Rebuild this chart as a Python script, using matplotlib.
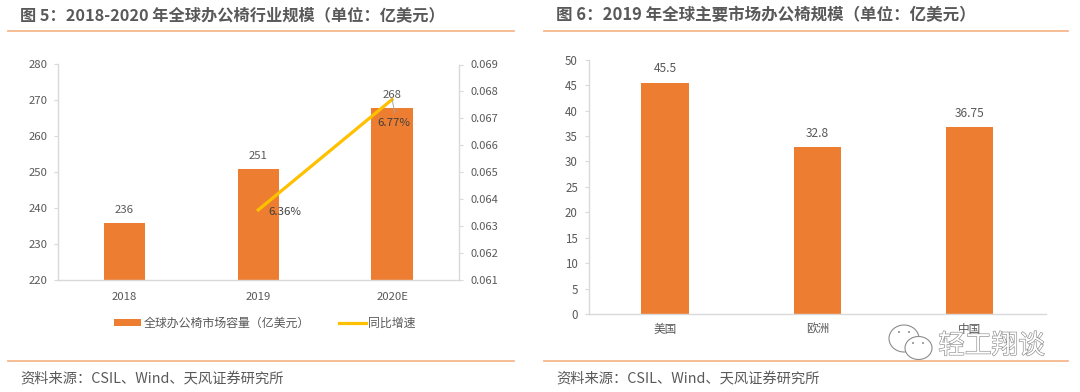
import matplotlib
matplotlib.use("Agg")
import matplotlib.pyplot as plt
from matplotlib.patches import Ellipse
import matplotlib.patheffects as pe

plt.rcParams['font.family'] = ['Noto Sans CJK SC', 'DejaVu Sans']

# Data
years = ['2018', '2019', '2020E']
market_size = [236, 251, 268]
growth_years = [1, 2]
growth = [0.0636, 0.0677]
growth_labels = ['6.36%', '6.77%']
left_ticks = [220, 230, 240, 250, 260, 270, 280]
right_ticks = [0.061, 0.062, 0.063, 0.064, 0.065, 0.066, 0.067, 0.068, 0.069]

regions = ['美国', '欧洲', '中国']
region_size = [45.5, 32.8, 36.75]
region_labels = ['45.5', '32.8', '36.75']
region_ticks = [0, 5, 10, 15, 20, 25, 30, 35, 40, 45, 50]

title_left = '图 5：2018-2020 年全球办公椅行业规模（单位：亿美元）'
title_right = '图 6：2019 年全球主要市场办公椅规模（单位：亿美元）'
source = '资料来源：CSIL、Wind、天风证券研究所'

W, H = 1080, 392
ORANGE = '#ED7D31'
YELLOW = '#FFC000'
GREY = '#D9D9D9'
TEXT = '#595959'
MARK = '#8C8C8C'


def px_axes(fig, x0, x1, y0, y1):
    # pixel box, y measured from the top
    return fig.add_axes([x0/W, 1 - y1/H, (x1-x0)/W, (y1-y0)/H])


def style(ax):
    for s in ['top', 'right']:
        ax.spines[s].set_visible(False)
    for s in ['left', 'bottom']:
        ax.spines[s].set_color(GREY)
        ax.spines[s].set_linewidth(1.0)
    ax.tick_params(axis='y', color=GREY, labelcolor=TEXT, labelsize=8.2, length=3, pad=4.4)
    ax.tick_params(axis='x', length=0, labelcolor=TEXT, labelsize=8.2, pad=9)


fig = plt.figure(figsize=(W/100, H/100), dpi=100)

# Left chart
ax = px_axes(fig, 57.5, 459, 64.5, 280)
bars = ax.bar(range(3), market_size, width=0.31, color=ORANGE, label='全球办公椅市场容量（亿美元）')
ax.set_xlim(-0.5, 2.5)
ax.set_ylim(220, 280)
ax.set_yticks(left_ticks)
ax.set_xticks(range(3))
ax.set_xticklabels(years)
style(ax)
for i, v in enumerate(market_size):
    ax.annotate(str(v), (i, v), xytext=(0, 9.3), textcoords='offset points',
                ha='center', va='center', fontsize=8.2, color=TEXT)

ax2 = ax.twinx()
line, = ax2.plot(growth_years, growth, color=YELLOW, lw=2.3, label='同比增速')
ax2.set_ylim(0.061, 0.069)
ax2.set_yticks(right_ticks)
ax2.set_yticklabels(['%.3f' % t for t in right_ticks])
for s in ['top', 'left', 'bottom']:
    ax2.spines[s].set_visible(False)
ax2.spines['right'].set_color(GREY)
ax2.spines['right'].set_linewidth(1.0)
ax2.tick_params(axis='y', color=GREY, labelcolor=TEXT, labelsize=8, length=3, pad=5)
ax2.annotate(growth_labels[0], (growth_years[0], growth[0]), xytext=(19, -1.5), textcoords='offset points',
             ha='center', va='center', fontsize=8.2, color='#404040')
ax2.annotate(growth_labels[1], (growth_years[1], growth[1]), xytext=(1, -17), textcoords='offset points',
             ha='center', va='center', fontsize=8.2, color='#404040')

fig.legend(handles=[bars, line], loc='center', bbox_to_anchor=(265/W, 1 - 323/H), ncol=2,
           frameon=False, fontsize=8.6, labelcolor=TEXT, handlelength=2.25, handleheight=0.5,
           columnspacing=2.4, handletextpad=0.22)

# Right chart, kept above the watermark so 中国 stays readable
ax3 = px_axes(fig, 588.7, 1046, 59.7, 314)
ax3.set_zorder(6)
ax3.patch.set_alpha(0)
ax3.bar(range(3), region_size, width=0.31, color=ORANGE)
ax3.set_xlim(-0.5, 2.5)
ax3.set_ylim(0, 50)
ax3.set_yticks(region_ticks)
ax3.set_xticks(range(3))
ax3.set_xticklabels(regions)
style(ax3)
ax3.tick_params(axis='x', labelsize=8.4, pad=6.5)
ax3.tick_params(axis='y', labelsize=8.3, length=3, pad=4.8)
for i, v in enumerate(region_size):
    ax3.annotate(region_labels[i], (i, v), xytext=(0, 10), textcoords='offset points',
                 ha='center', va='center', fontsize=8.6, color=TEXT)

# Page furniture drawn in pixel coordinates
page = fig.add_axes([0, 0, 1, 1], zorder=5)
page.set_xlim(0, W)
page.set_ylim(H, 0)
page.axis('off')
page.patch.set_alpha(0)
for x0, x1 in [(8, 514), (544, 1068)]:
    page.plot([x0, x1], [31.2, 31.2], color='#F4B183', lw=1.2)
    page.plot([x0, x1], [361.2, 361.2], color='#F4B183', lw=1.2)
page.text(20, 15.5, title_left, fontsize=11.7, fontweight='bold', color=TEXT, va='center')
page.text(556, 15.5, title_right, fontsize=11.9, fontweight='bold', color=TEXT, va='center')
page.text(20, 379, source, fontsize=10.3, color=TEXT, va='center')
page.text(556, 379, source, fontsize=10.3, color=TEXT, va='center')

# 268 leader line
page.plot([392, 394.7], [99, 112.3], color='#A6A6A6', lw=0.7)

# Watermark
page.add_patch(Ellipse((904, 338.5), 30, 27, fc='none', ec=MARK, lw=0.8))
page.add_patch(Ellipse((918.5, 348), 27, 23, fc='white', ec=MARK, lw=0.8))
for ex, ey in [(899, 332), (909, 332), (913, 343), (923, 343)]:
    page.add_patch(Ellipse((ex, ey), 2, 2, fc=MARK, ec='none'))
page.text(991.5, 346, '轻工翔谈', fontsize=19.2, color='white', ha='center', va='center',
          path_effects=[pe.withStroke(linewidth=0.9, foreground=MARK)])

fig.savefig('out.png', dpi=100, facecolor='white')
